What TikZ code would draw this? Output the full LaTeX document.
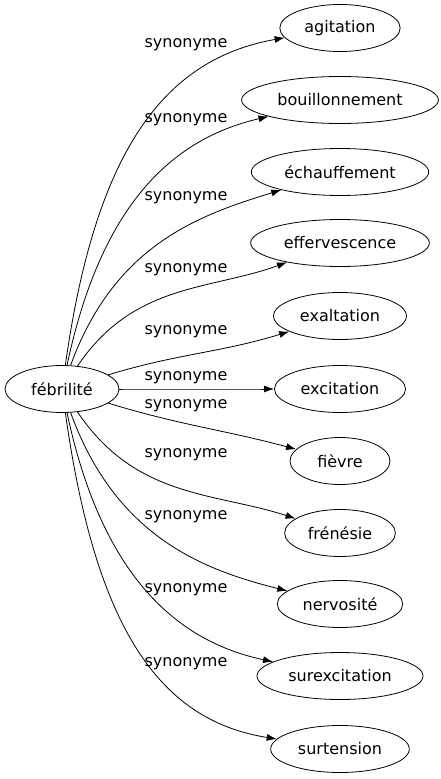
\documentclass[tikz,border=0pt]{standalone}
\usepackage{fontspec}
\setmainfont{DejaVu Sans}
\usetikzlibrary{shapes.geometric, arrows.meta}
\begin{document}
\begin{tikzpicture}[
                x=1pt, y=1pt,
                >={Latex[length=10pt, width=7pt]},
                line width=0.8pt,
                every node/.style={font=\fontsize{16}{19}\selectfont},
                word/.style={draw, ellipse, inner xsep=7pt, inner ysep=0pt, minimum height=47pt, minimum width=100pt}
                ]
                \useasboundingbox (0,0) rectangle (441,-779);

                \node [word, minimum width=114pt] (febrilite) at (62,-389) {fébrilité};

                \foreach \name/\txt/\y/\ly/\o/\i/\ol/\il in {
                    agitation/agitation/28/45/82/190/1.4/0.8,
                    bouillonnement/bouillonnement/100/120/78/193/1.3/0.8,
                    echauffement/échauffement/172/198/70/197/1.2/0.8,
                    effervescence/effervescence/243/270/56/200/1.1/0.9,
                    exaltation/exaltation/316/332/17/197/1/1,
                    excitation/excitation/389/378/0/180/1/1,
                    fievre/fièvre/461/406/-17/165/1/1,
                    frenesie/frénésie/533/455/-56/162/1.1/0.9,
                    nervosite/nervosité/604/517/-70/166/1.2/0.8,
                    surexcitation/surexcitation/676/590/-78/168/1.3/0.8,
                    surtension/surtension/749/664/-82/171/1.4/0.8}{
                    \node [word] (\name) at (340,-\y) {\txt};
                    \node (syn-\name) at (186,-\ly) {synonyme};
                    \draw[->] (febrilite) to[out=\o, in=\i, out looseness=\ol, in looseness=\il] (\name);
                }
            \end{tikzpicture}
\end{document}
